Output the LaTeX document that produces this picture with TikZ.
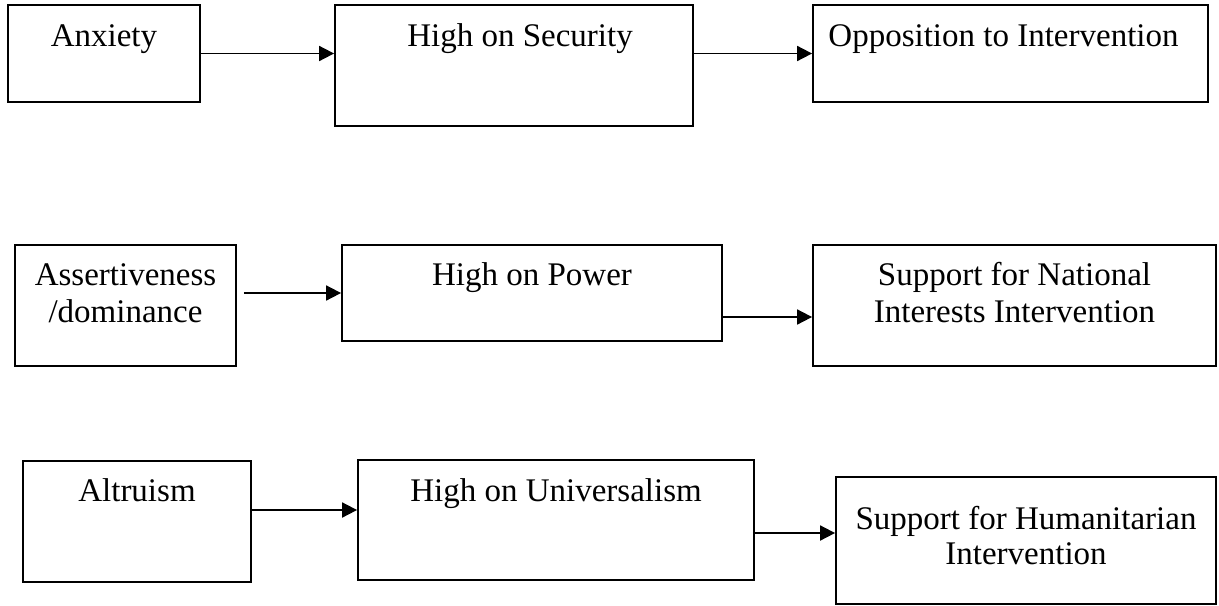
\documentclass[tikz,border=0pt]{standalone}
\usepackage{fontspec}
\setmainfont{Liberation Serif}
\usetikzlibrary{arrows.meta,fit,calc}
\begin{document}
\begin{tikzpicture}[x=0.5pt,y=-0.5pt,
  box/.style={draw, line width=0.9pt, inner sep=0pt, rectangle},
  txt/.style={anchor=base, inner sep=0pt, font=\fontsize{16.5pt}{18.5pt}\selectfont},
  arr/.style={line width=0.9pt, -{Triangle[length=7.5pt,width=7.5pt]}}]
\useasboundingbox (0,0) rectangle (1219,605);
% boxes
\node[box, fit={(8,5) (200,102)}] (anx) {};
\node[box, fit={(335,5) (693,126)}] (sec) {};
\node[box, fit={(813,5) (1208,102)}] (opp) {};
\node[box, fit={(15,245) (236,366)}] (ass) {};
\node[box, fit={(342,245) (722,341)}] (pow) {};
\node[box, fit={(813,245) (1216,366)}] (nat) {};
\node[box, fit={(23,461) (251,582)}] (alt) {};
\node[box, fit={(358,460) (754,580)}] (uni) {};
\node[box, fit={(836,477) (1216,604)}] (hum) {};
% texts
\node[txt] (tanx) at ($(anx.north)+(0,42)$) {Anxiety};
\node[txt] (tsec) at ($(sec.north)+(6,42)$) {High on Security};
\node[txt] (topp) at ($(opp.north)+(-7,42)$) {Opposition to Intervention};
\node[txt] (tass1) at ($(ass.north)+(0,41)$) {Assertiveness};
\node[txt] (tass2) at ($(ass.north)+(0,78)$) {/dominance};
\node[txt] (tpow) at ($(pow.north)+(0,41)$) {High on Power};
\node[txt] (tnat1) at ($(nat.north)+(0,41)$) {Support for National};
\node[txt] (tnat2) at ($(nat.north)+(0,78)$) {Interests Intervention};
\node[txt] (talt) at ($(alt.north)+(0,41)$) {Altruism};
\node[txt] (tuni) at ($(uni.north)+(0,42)$) {High on Universalism};
\node[txt] (thum1) at ($(hum.north)+(0,53)$) {Support for Humanitarian};
\node[txt] (thum2) at ($(hum.north)+(0,88)$) {Intervention};
% arrows
\draw[arr] (anx.east) -- (anx.east -| sec.west);
\draw[arr] (opp.west -| sec.east) -- (opp.west);
\coordinate (a2) at ($(ass.east)+(7,-12.5)$);
\draw[arr] (a2) -- (a2 -| pow.west);
\coordinate (p2) at ($(pow.east)+(0,24)$);
\draw[arr] (p2) -- (p2 -| nat.west);
\coordinate (a3) at ($(alt.east)+(0,-11.5)$);
\draw[arr] (a3) -- (a3 -| uni.west);
\coordinate (u3) at ($(uni.east)+(-2,13)$);
\draw[arr] (u3) -- (u3 -| hum.west);
\end{tikzpicture}
\end{document}
